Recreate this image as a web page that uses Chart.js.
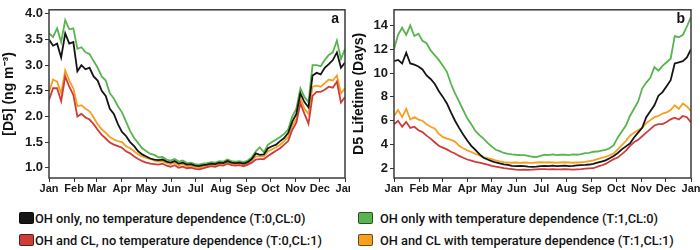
<!DOCTYPE html>
<html>
<head>
<meta charset="utf-8">
<script src="https://cdn.jsdelivr.net/npm/chart.js@4.4.1/dist/chart.umd.min.js"></script>
<style>
  html, body { margin: 0; padding: 0; background: #fff; }
  #wrap { position: relative; width: 700px; height: 250px; overflow: hidden; }
  #boxA { position: absolute; left: 0; top: 0; width: 350px; height: 200px; }
  #boxB { position: absolute; left: 350px; top: 0; width: 350px; height: 200px; }
  #legend {
    position: absolute; left: 19px; top: 211px;
    display: grid; grid-template-columns: 339px auto; row-gap: 8px;
    font-family: Roboto, sans-serif; font-weight: 500; font-size: 12.8px; color: #111;
  }
  .item { display: flex; align-items: center; height: 14px; white-space: nowrap; }
  .sw { width: 13px; height: 10px; border: 1px solid rgba(0,0,0,.55); border-radius: 2px; margin-right: 1px; }
  .item:nth-child(2n) .sw { margin-right: 7px; }
</style>
</head>
<body>
<div id="wrap">
  <div id="boxA"><canvas id="chartA" width="350" height="200"></canvas></div>
  <div id="boxB"><canvas id="chartB" width="350" height="200"></canvas></div>
  <div id="legend"></div>
</div>
<script>
// day of year, sampled every 5 days
var days = [0,5,10,15,20,25,30,35,40,45,50,55,60,65,70,75,80,85,90,95,
  100,105,110,115,120,125,130,135,140,145,150,155,160,165,170,175,180,185,190,195,
  200,205,210,215,220,225,230,235,240,245,250,255,260,265,270,275,280,285,290,295,
  300,305,310,315,320,325,330,335,340,345,350,355,360,365];
var monthStarts = [0,31,59,90,120,151,181,212,243,273,304,334,365];
var months = ['Jan','Feb','Mar','Apr','May','Jun','Jul','Aug','Sep','Oct','Nov','Dec','Jan'];

var names = [
  'OH only, no temperature dependence (T:0,CL:0)',
  'OH only with temperature dependence (T:1,CL:0)',
  'OH and CL, no temperature dependence (T:0,CL:1)',
  'OH and CL with temperature dependence (T:1,CL:1)'
];
var colors = ['#151515', '#58b44e', '#cf3b3b', '#f5a11f'];

// panel a: [D5] (ng m-3)
var concBlack = [3.50,3.38,3.42,3.15,3.62,3.42,3.45,2.88,3.00,2.92,
  2.95,2.78,2.70,2.50,2.40,2.15,2.05,1.85,1.70,1.62,
  1.50,1.42,1.32,1.26,1.22,1.18,1.16,1.15,1.16,1.12,
  1.10,1.13,1.08,1.10,1.06,1.07,1.04,1.03,1.05,1.06,
  1.08,1.07,1.10,1.09,1.13,1.10,1.09,1.10,1.08,1.11,
  1.17,1.28,1.25,1.26,1.38,1.42,1.45,1.52,1.58,1.68,
  1.90,2.05,2.45,2.28,2.18,2.80,2.85,2.82,2.95,3.02,
  3.10,3.25,2.95,3.05];
var concGreen = [3.62,3.55,3.72,3.45,3.88,3.70,3.72,3.32,3.35,3.25,
  3.22,3.08,2.95,2.78,2.70,2.45,2.35,2.20,2.08,1.90,
  1.72,1.58,1.48,1.38,1.32,1.27,1.25,1.20,1.21,1.16,
  1.14,1.17,1.12,1.14,1.09,1.10,1.07,1.06,1.08,1.09,
  1.11,1.10,1.13,1.12,1.16,1.13,1.12,1.13,1.11,1.14,
  1.20,1.32,1.40,1.30,1.45,1.50,1.55,1.60,1.66,1.75,
  2.00,2.15,2.55,2.38,2.28,3.00,3.00,2.98,3.10,3.20,
  3.25,3.48,3.12,3.32];
var concRed = [2.32,2.55,2.55,2.30,2.78,2.58,2.42,2.00,2.05,1.98,
  1.94,1.85,1.74,1.64,1.57,1.49,1.45,1.42,1.39,1.32,
  1.28,1.22,1.17,1.13,1.10,1.08,1.07,1.06,1.08,1.04,
  1.02,1.05,1.00,1.02,0.99,1.00,0.98,0.97,0.99,1.01,
  1.03,1.02,1.05,1.04,1.08,1.05,1.04,1.05,1.03,1.06,
  1.10,1.16,1.17,1.17,1.23,1.28,1.33,1.38,1.45,1.52,
  1.74,1.88,2.26,2.05,1.86,2.40,2.48,2.48,2.52,2.58,
  2.56,2.68,2.27,2.38];
var concOrange = [2.48,2.72,2.68,2.45,2.90,2.70,2.55,2.20,2.22,2.15,
  2.10,1.98,1.85,1.75,1.68,1.60,1.55,1.52,1.50,1.42,
  1.38,1.32,1.26,1.22,1.19,1.17,1.14,1.12,1.13,1.09,
  1.07,1.10,1.05,1.07,1.03,1.04,1.01,1.00,1.02,1.04,
  1.06,1.05,1.08,1.07,1.11,1.08,1.07,1.08,1.06,1.09,
  1.14,1.22,1.22,1.22,1.32,1.36,1.40,1.45,1.52,1.60,
  1.82,1.95,2.36,2.15,2.05,2.58,2.60,2.58,2.65,2.72,
  2.70,2.80,2.45,2.55];

// panel b: D5 lifetime (days)
var lifeBlack = [11.0,11.1,10.8,11.7,10.8,10.7,10.55,10.3,9.8,9.5,
  9.1,8.5,8.0,7.45,6.7,6.0,5.4,4.85,4.35,3.9,
  3.55,3.2,2.9,2.75,2.62,2.5,2.42,2.35,2.3,2.22,
  2.2,2.22,2.2,2.15,2.14,2.16,2.2,2.22,2.2,2.23,
  2.2,2.22,2.24,2.2,2.22,2.25,2.28,2.3,2.33,2.38,
  2.48,2.58,2.68,2.85,3.05,3.3,3.6,3.85,4.1,4.6,
  5.0,5.4,6.3,6.8,7.3,8.1,8.4,8.9,9.4,10.8,
  10.9,11.0,11.3,12.0];
var lifeGreen = [12.0,13.2,13.8,13.2,14.0,13.1,13.3,12.7,12.5,11.9,
  11.5,11.1,10.6,10.1,9.1,8.3,7.6,6.9,6.2,5.7,
  5.15,4.8,4.5,4.15,3.85,3.57,3.45,3.3,3.22,3.18,
  3.15,3.13,3.12,3.05,2.98,2.95,3.05,3.15,3.12,3.18,
  3.12,3.15,3.16,3.12,3.18,3.15,3.2,3.28,3.3,3.4,
  3.42,3.5,3.55,3.7,3.95,4.6,5.1,5.6,6.4,7.0,
  7.6,8.7,9.2,9.6,10.5,10.2,10.6,10.9,11.2,13.1,
  13.0,13.2,13.9,14.7];
var lifeRed = [5.7,6.0,5.5,5.9,5.4,5.5,5.2,5.05,4.75,4.5,
  4.2,3.9,3.75,3.6,3.4,3.25,3.05,2.9,2.75,2.65,
  2.55,2.48,2.4,2.32,2.22,2.15,2.1,2.03,1.98,1.94,
  1.9,1.88,1.9,1.88,1.9,1.93,1.95,1.95,1.93,1.95,
  1.93,1.92,1.95,1.93,1.9,1.93,1.95,1.98,2.0,2.02,
  2.15,2.25,2.38,2.58,2.78,2.92,3.2,3.5,3.9,4.2,
  4.4,4.7,5.0,5.3,5.6,5.72,5.72,5.9,6.12,6.26,
  6.1,6.4,6.3,5.85];
var lifeOrange = [6.4,6.9,6.3,7.0,6.1,6.3,6.1,6.0,5.7,5.5,
  5.35,4.9,4.65,4.5,4.4,4.25,3.9,3.7,3.52,3.38,
  3.22,3.1,2.95,2.87,2.78,2.68,2.6,2.53,2.5,2.48,
  2.5,2.47,2.5,2.48,2.47,2.5,2.52,2.5,2.52,2.5,
  2.48,2.5,2.52,2.5,2.48,2.5,2.52,2.55,2.62,2.68,
  2.78,2.88,2.98,3.1,3.28,3.6,3.95,4.3,4.75,5.0,
  5.2,5.4,5.8,6.05,6.3,6.4,6.6,6.7,6.9,7.3,
  7.0,7.45,7.2,6.8];

var concTicks = [1.0,1.5,2.0,2.5,3.0,3.5,4.0];
var lifeTicks = [2,4,6,8,10,12,14];

Chart.defaults.font.family = '"Liberation Sans", Arial, sans-serif';
Chart.defaults.color = '#1a1a1a';

var framePlugin = {
  id: 'frame',
  afterDatasetsDraw: function (chart, args, opts) {
    var a = chart.chartArea, c = chart.ctx;
    c.save();
    c.strokeStyle = '#3a3a3a';
    c.lineWidth = 1.5;
    c.strokeRect(a.left, a.top, a.right - a.left, a.bottom - a.top);
    c.fillStyle = '#111';
    c.font = 'bold 14px "Liberation Sans", Arial, sans-serif';
    c.textAlign = 'right';
    c.textBaseline = 'alphabetic';
    c.fillText(opts.letter, a.right - 6, a.top + 13);
    c.restore();
  }
};

function pts(vals) {
  return days.map(function (d, i) { return { x: d, y: vals[i] }; });
}

function makeChart(id, series, yTicks, yMin, yMax, yTitle, yWidth, padRight, letter, decimals) {
  return new Chart(document.getElementById(id), {
    type: 'line',
    data: {
      datasets: series.map(function (s, i) {
        return {
          label: names[i],
          data: pts(s),
          borderColor: colors[i],
          backgroundColor: colors[i],
          borderWidth: 1.8,
          pointRadius: 0,
          tension: 0,
          fill: false
        };
      })
    },
    options: {
      responsive: false,
      animation: false,
      devicePixelRatio: 1,
      layout: { padding: { left: 0, right: padRight, top: 3, bottom: 0 } },
      plugins: {
        legend: { display: false },
        tooltip: { enabled: false },
        frame: { letter: letter }
      },
      scales: {
        x: {
          type: 'linear',
          min: 0,
          max: 365,
          afterBuildTicks: function (s) {
            s.ticks = monthStarts.map(function (v) { return { value: v }; });
          },
          afterFit: function (s) { s.height = 22; s.paddingLeft = 0; s.paddingRight = 0; },
          grid: { drawOnChartArea: false, drawTicks: true, tickLength: 4, color: '#333' },
          border: { display: false },
          ticks: {
            autoSkip: false, maxRotation: 0, padding: 0,
            font: { size: 11, weight: 'bold' },
            callback: function (v, i) { return months[i]; }
          }
        },
        y: {
          min: yMin,
          max: yMax,
          afterBuildTicks: function (s) {
            s.ticks = yTicks.map(function (v) { return { value: v }; });
          },
          afterFit: function (s) { s.width = yWidth; },
          grid: { drawOnChartArea: false, drawTicks: true, tickLength: 4, color: '#333' },
          border: { display: false },
          ticks: {
            padding: 2,
            font: { size: 13, weight: 'bold' },
            callback: function (v) { return v.toFixed(decimals); }
          },
          title: {
            display: true, text: yTitle, color: '#111',
            font: { size: 14, weight: 'bold' },
            padding: { top: 1, bottom: 0 }
          }
        }
      }
    },
    plugins: [framePlugin]
  });
}

makeChart('chartA', [concBlack, concGreen, concRed, concOrange], concTicks,
  0.8, 4.08, '[D5] (ng m\u207B\u00B3)', 49, 5, 'a', 1);
makeChart('chartB', [lifeBlack, lifeGreen, lifeRed, lifeOrange], lifeTicks,
  1.2, 15.3, 'D5 Lifetime (Days)', 44, 9, 'b', 0);

// legend, in the reference's two-column order
var legend = document.getElementById('legend');
names.forEach(function (name, i) {
  var item = document.createElement('div');
  item.className = 'item';
  var sw = document.createElement('span');
  sw.className = 'sw';
  sw.style.background = colors[i];
  var tx = document.createElement('span');
  tx.textContent = name;
  item.appendChild(sw);
  item.appendChild(tx);
  legend.appendChild(item);
});
</script>
</body>
</html>
